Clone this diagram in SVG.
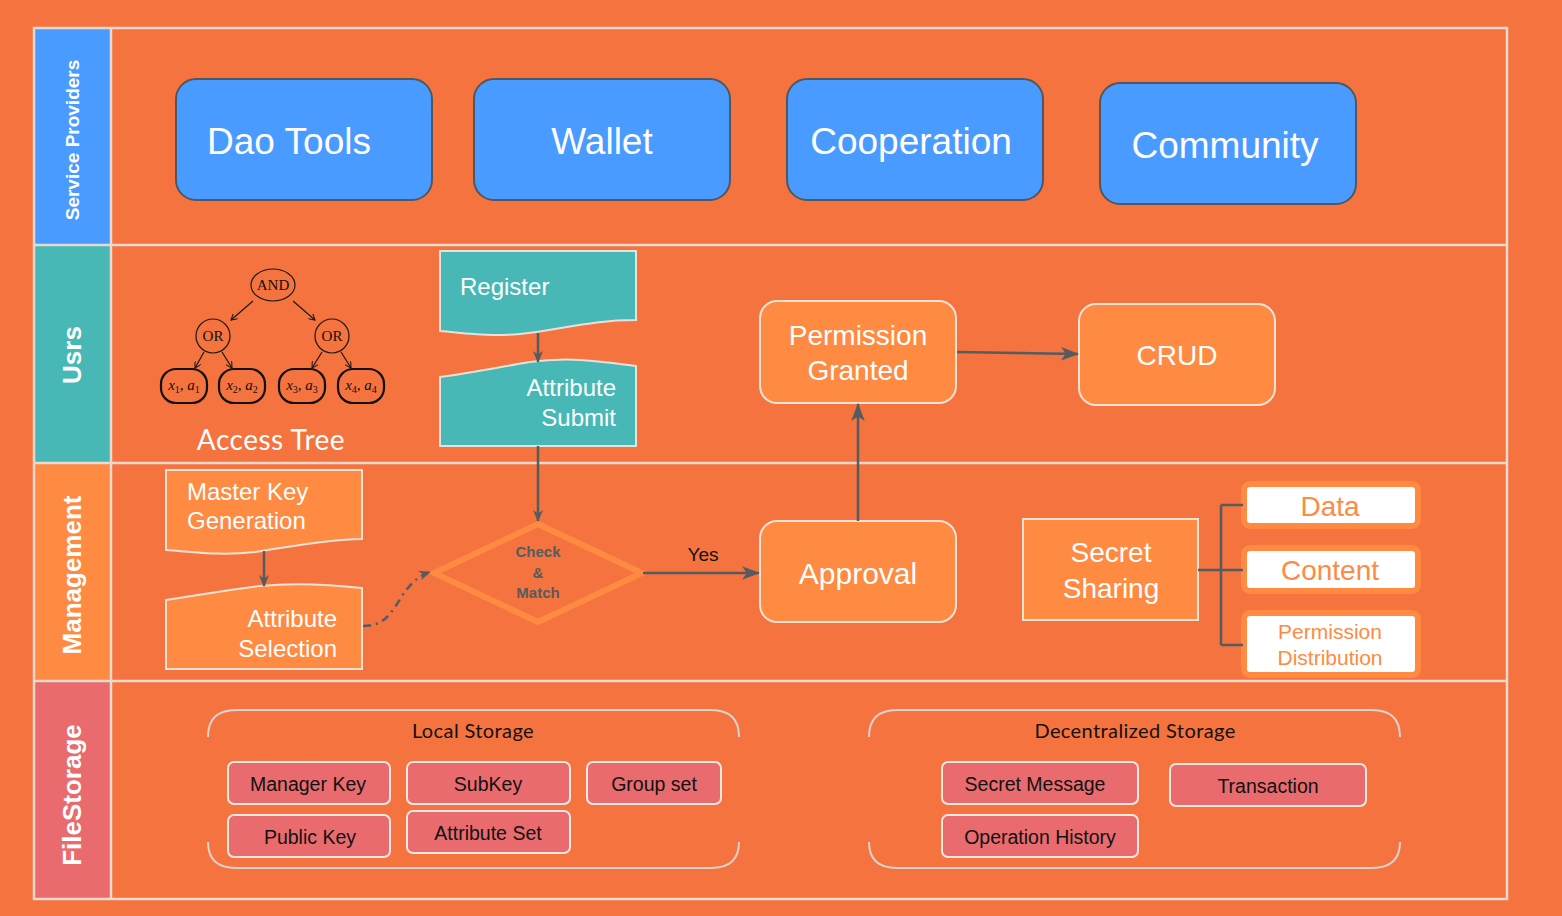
<svg xmlns="http://www.w3.org/2000/svg" width="1562" height="916" viewBox="0 0 1562 916">
<defs>
<style>
.lane{fill:none;stroke:#EAD9CE;stroke-width:2.5}
.hdr{font-family:"Liberation Sans",Arial,sans-serif;font-weight:bold;fill:#fff;text-anchor:middle}
.sp rect{fill:#4A9BFF;stroke:#50585E;stroke-width:2}
.sp text{font-family:"Liberation Sans",Arial,sans-serif;font-size:37px;fill:#fff;text-anchor:middle}
.ob{fill:#FF8A42;stroke:#F2E2D6;stroke-width:2}
.wt{font-family:"Liberation Sans",Arial,sans-serif;fill:#fff}
.doc{fill:#47B8B6;stroke:#E8E0DA;stroke-width:2}
.docO{fill:#FF8A42;stroke:#F2E2D6;stroke-width:2}
.conn{fill:none;stroke:#555C60;stroke-width:2.5}
.tree{fill:none;stroke:#1a1a1a;stroke-width:1.2}
.leaf{fill:none;stroke:#111;stroke-width:2.2}
.tt{font-family:"Liberation Serif","Times New Roman",serif;font-size:15px;fill:#111;text-anchor:middle}
.mt{font-family:"Liberation Serif","Times New Roman",serif;font-style:italic;font-size:15px;fill:#111;text-anchor:middle}
.wb rect{fill:#fff;stroke:#FF8A42;stroke-width:6}
.wb text{font-family:"Liberation Sans",Arial,sans-serif;fill:#FF8A42;text-anchor:middle}
.cont{fill:none;stroke:#DDD3CE;stroke-width:2}
.ct{font-family:Lato,"Open Sans",sans-serif;font-size:20px;fill:#111;text-anchor:middle;letter-spacing:0.4px}
.fs rect{fill:#E96B6E;stroke:#F5E8E2;stroke-width:2}
.fs text{font-family:"Liberation Sans",Arial,sans-serif;font-size:19.5px;fill:#111;text-anchor:middle}
</style>
<marker id="arr" viewBox="0 0 12 10" refX="11" refY="5" markerWidth="12" markerHeight="10" markerUnits="userSpaceOnUse" orient="auto">
<path d="M0,0 L12,5 L0,10 L3.5,5 z" fill="#555C60"/>
</marker>
<marker id="arrL" viewBox="0 0 16 12" refX="15" refY="6" markerWidth="18" markerHeight="14" markerUnits="userSpaceOnUse" orient="auto">
<path d="M0,0 L16,6 L0,12 L4,6 z" fill="#555C60"/>
</marker>
<marker id="tarr" viewBox="0 0 8 8" refX="7" refY="4" markerWidth="7" markerHeight="7" markerUnits="userSpaceOnUse" orient="auto">
<path d="M0,0 L7,4 L0,8" fill="none" stroke="#1a1a1a" stroke-width="1.2"/>
</marker>
</defs>

<rect x="0" y="0" width="1562" height="916" fill="#F4733F"/>

<g id="lanes">
<rect x="34" y="28" width="77" height="217" fill="#4A9BFF"/>
<rect x="34" y="245" width="77" height="218" fill="#47B8B6"/>
<rect x="34" y="463" width="77" height="218" fill="#FF8A42"/>
<rect x="34" y="681" width="77" height="218" fill="#E96B6E"/>
<rect class="lane" x="34" y="28" width="1473" height="871"/>
<line class="lane" x1="34" y1="245" x2="1507" y2="245"/>
<line class="lane" x1="34" y1="463" x2="1507" y2="463"/>
<line class="lane" x1="34" y1="681" x2="1507" y2="681"/>
<line class="lane" x1="111" y1="28" x2="111" y2="899"/>
<text class="hdr" font-size="19" transform="translate(79,140) rotate(-90)">Service Providers</text>
<text class="hdr" font-size="26" transform="translate(81,355) rotate(-90)">Usrs</text>
<text class="hdr" font-size="26" transform="translate(81,575) rotate(-90)">Management</text>
<text class="hdr" font-size="26" transform="translate(81,795) rotate(-90)">FileStorage</text>
</g>

<g id="dao-tools" class="sp"><rect x="176" y="79" width="256" height="121" rx="20"/><text x="289" y="154">Dao Tools</text></g>
<g id="wallet" class="sp"><rect x="474" y="79" width="256" height="121" rx="20"/><text x="602" y="154">Wallet</text></g>
<g id="cooperation" class="sp"><rect x="787" y="79" width="256" height="121" rx="20"/><text x="911" y="154">Cooperation</text></g>
<g id="community" class="sp"><rect x="1100" y="83" width="256" height="121" rx="20"/><text x="1225" y="158">Community</text></g>

<g id="access-tree">
<ellipse class="tree" cx="273" cy="285" rx="22" ry="16"/>
<text class="tt" x="273" y="290">AND</text>
<circle class="tree" cx="213" cy="336" r="17"/>
<text class="tt" x="213" y="341">OR</text>
<circle class="tree" cx="332" cy="336" r="17"/>
<text class="tt" x="332" y="341">OR</text>
<path class="tree" d="M253,301 L231,320" marker-end="url(#tarr)"/>
<path class="tree" d="M293,301 L315,320" marker-end="url(#tarr)"/>
<path class="tree" d="M204,352 L195,368" marker-end="url(#tarr)"/>
<path class="tree" d="M222,352 L232,368" marker-end="url(#tarr)"/>
<path class="tree" d="M322,352 L312,368" marker-end="url(#tarr)"/>
<path class="tree" d="M341,352 L351,368" marker-end="url(#tarr)"/>
<rect class="leaf" x="161" y="369" width="46" height="34" rx="15"/>
<rect class="leaf" x="219" y="369" width="46" height="34" rx="15"/>
<rect class="leaf" x="279" y="369" width="46" height="34" rx="15"/>
<rect class="leaf" x="338" y="369" width="46" height="34" rx="15"/>
<text class="mt" x="184" y="390">x<tspan font-size="10" dy="3" font-style="normal">1</tspan><tspan dy="-3" font-style="normal">, </tspan>a<tspan font-size="10" dy="3" font-style="normal">1</tspan></text>
<text class="mt" x="242" y="390">x<tspan font-size="10" dy="3" font-style="normal">2</tspan><tspan dy="-3" font-style="normal">, </tspan>a<tspan font-size="10" dy="3" font-style="normal">2</tspan></text>
<text class="mt" x="302" y="390">x<tspan font-size="10" dy="3" font-style="normal">3</tspan><tspan dy="-3" font-style="normal">, </tspan>a<tspan font-size="10" dy="3" font-style="normal">3</tspan></text>
<text class="mt" x="361" y="390">x<tspan font-size="10" dy="3" font-style="normal">4</tspan><tspan dy="-3" font-style="normal">, </tspan>a<tspan font-size="10" dy="3" font-style="normal">4</tspan></text>
<text x="271" y="450" font-family="Lato,'Open Sans',sans-serif" font-size="28" fill="#fff" text-anchor="middle" letter-spacing="0.5">Access Tree</text>
</g>

<g id="register">
<path class="doc" d="M440,251 H636 V320 C590,320 560,330 520,334 C490,337 465,333 440,331 Z"/>
<text class="wt" x="460" y="295" font-size="24">Register</text>
</g>
<g id="attribute-submit">
<path class="doc" d="M440,377 C470,373 500,367 530,362 C570,356 605,362 636,366 V446 H440 Z"/>
<text class="wt" x="616" y="396" font-size="24" text-anchor="end">Attribute</text>
<text class="wt" x="616" y="426" font-size="24" text-anchor="end">Submit</text>
</g>

<g id="master-key-generation">
<path class="docO" d="M166,470 H362 V539 C320,540 290,547 255,552 C220,556 195,552 166,550 Z"/>
<text class="wt" x="187" y="500" font-size="24">Master Key</text>
<text class="wt" x="187" y="529" font-size="24">Generation</text>
</g>
<g id="attribute-selection">
<path class="docO" d="M166,600 C195,596 225,590 260,586 C300,582 335,585 362,588 V669 H166 Z"/>
<text class="wt" x="337" y="627" font-size="24" text-anchor="end">Attribute</text>
<text class="wt" x="337" y="657" font-size="24" text-anchor="end">Selection</text>
</g>

<g id="check-match">
<path d="M538,524 L642,573 L538,622 L434,573 Z" fill="none" stroke="#FF8A42" stroke-width="6" stroke-linejoin="miter"/>
<text x="538" y="557" font-family="'Liberation Sans',Arial,sans-serif" font-weight="bold" font-size="15" fill="#555C60" text-anchor="middle">Check</text>
<text x="538" y="578" font-family="'Liberation Sans',Arial,sans-serif" font-weight="bold" font-size="15" fill="#555C60" text-anchor="middle">&amp;</text>
<text x="538" y="598" font-family="'Liberation Sans',Arial,sans-serif" font-weight="bold" font-size="15" fill="#555C60" text-anchor="middle">Match</text>
</g>

<g id="approval">
<rect class="ob" x="760" y="521" width="196" height="101" rx="17"/>
<text class="wt" x="858" y="584" font-size="30" text-anchor="middle">Approval</text>
</g>
<g id="permission-granted">
<rect class="ob" x="760" y="301" width="196" height="102" rx="17"/>
<text class="wt" x="858" y="345" font-size="28" text-anchor="middle">Permission</text>
<text class="wt" x="858" y="380" font-size="28" text-anchor="middle">Granted</text>
</g>
<g id="crud">
<rect class="ob" x="1079" y="304" width="196" height="101" rx="17"/>
<text class="wt" x="1177" y="365" font-size="28" text-anchor="middle">CRUD</text>
</g>

<g id="secret-sharing">
<rect class="ob" x="1023" y="519" width="175" height="101"/>
<text class="wt" x="1111" y="562" font-size="28" text-anchor="middle">Secret</text>
<text class="wt" x="1111" y="598" font-size="28" text-anchor="middle">Sharing</text>
</g>
<g id="data" class="wb"><rect x="1244" y="484" width="174" height="42" rx="6"/><text x="1330" y="516" font-size="28">Data</text></g>
<g id="content" class="wb"><rect x="1244" y="548" width="174" height="43" rx="6"/><text x="1330" y="580" font-size="28">Content</text></g>
<g id="permission-distribution" class="wb"><rect x="1244" y="613" width="174" height="62" rx="6"/><text x="1330" y="639" font-size="21">Permission</text><text x="1330" y="665" font-size="21">Distribution</text></g>

<g id="local-storage">
<path class="cont" d="M208,737 Q208,710 236,710 H711 Q739,710 739,737"/>
<path class="cont" d="M208,842 Q208,868 236,868 H711 Q739,868 739,842"/>
<text class="ct" x="473" y="738">Local  Storage</text>
</g>
<g id="manager-key" class="fs"><rect x="228" y="762" width="162" height="42" rx="6"/><text x="308" y="791">Manager Key</text></g>
<g id="subkey" class="fs"><rect x="407" y="762" width="163" height="42" rx="6"/><text x="488" y="791">SubKey</text></g>
<g id="group-set" class="fs"><rect x="587" y="762" width="134" height="42" rx="6"/><text x="654" y="791">Group set</text></g>
<g id="public-key" class="fs"><rect x="228" y="815" width="162" height="42" rx="6"/><text x="310" y="844">Public Key</text></g>
<g id="attribute-set" class="fs"><rect x="407" y="811" width="163" height="42" rx="6"/><text x="488" y="840">Attribute Set</text></g>

<g id="decentralized-storage">
<path class="cont" d="M869,737 Q869,710 897,710 H1372 Q1400,710 1400,737"/>
<path class="cont" d="M869,842 Q869,868 897,868 H1372 Q1400,868 1400,842"/>
<text class="ct" x="1135" y="738">Decentralized  Storage</text>
</g>
<g id="secret-message" class="fs"><rect x="942" y="762" width="196" height="42" rx="6"/><text x="1035" y="791">Secret Message</text></g>
<g id="transaction" class="fs"><rect x="1170" y="764" width="196" height="42" rx="6"/><text x="1268" y="793">Transaction</text></g>
<g id="operation-history" class="fs"><rect x="942" y="815" width="196" height="42" rx="6"/><text x="1040" y="844">Operation History</text></g>

<g id="connectors">
<path class="conn" d="M538,333 V362" marker-end="url(#arr)"/>
<path class="conn" d="M538,446 V521" marker-end="url(#arr)"/>
<path class="conn" d="M264,551 V586" marker-end="url(#arr)"/>
<path class="conn" d="M363,626 C385,626 392,612 402,596 C410,584 418,576 430,572" stroke-width="2" stroke-dasharray="8,5,2,5" marker-end="url(#arr)"/>
<path class="conn" d="M643,573 H759" marker-end="url(#arrL)"/>
<text x="703" y="561" font-family="'Liberation Sans',Arial,sans-serif" font-size="19" fill="#111" text-anchor="middle">Yes</text>
<path class="conn" d="M858,521 V404" marker-end="url(#arrL)"/>
<path class="conn" d="M957,352 L1078,354" marker-end="url(#arrL)"/>
<path class="conn" d="M1198,570 H1243 M1221,505 V645 M1221,505 H1243 M1221,645 H1243"/>
</g>
</svg>
